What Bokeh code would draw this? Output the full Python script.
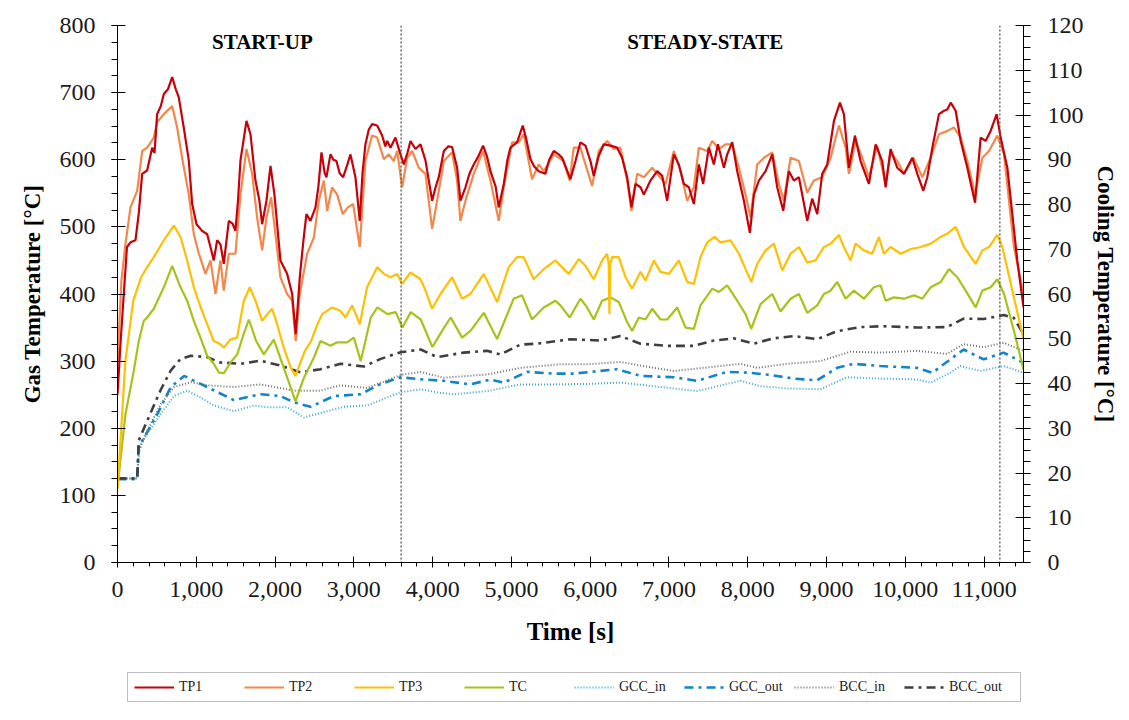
from bokeh.plotting import figure
from bokeh.layouts import column
from bokeh.models import (Range1d, LinearAxis, FixedTicker, NumeralTickFormatter,
                          Span, Label, Legend, LegendItem)
from bokeh.embed import file_html
from bokeh.resources import INLINE

# ---------------- data (time [s], temperature) ----------------
tp1_t = [0, 40, 80, 120, 165, 228, 270, 313, 376, 440, 470, 503, 550, 588, 640, 694, 740, 778, 841, 905,
         948, 1003, 1074, 1138, 1180, 1222, 1265, 1307, 1349, 1413, 1460, 1497, 1530, 1561, 1637, 1688, 1751,
         1800, 1836, 1891, 1942, 1992, 2068, 2153, 2217, 2262, 2314, 2360, 2398, 2449, 2513, 2550, 2589, 2630,
         2652, 2703, 2740, 2779, 2820, 2864, 2910, 2957, 3020, 3075, 3110, 3147, 3190, 3232, 3296, 3359, 3400,
         3423, 3465, 3528, 3592, 3634, 3680, 3719, 3782, 3846, 3909, 3950, 3994, 4040, 4078, 4142, 4200, 4247,
         4311, 4353, 4417, 4470, 4522, 4580, 4640, 4690, 4734, 4800, 4839, 4903, 4950, 4987, 5072, 5144, 5190,
         5241, 5290, 5347, 5431, 5480, 5537, 5600, 5643, 5749, 5813, 5876, 5940, 6003, 6045, 6109, 6172, 6257,
         6342, 6405, 6469, 6524, 6575, 6639, 6681, 6765, 6850, 6914, 6977, 7062, 7125, 7189, 7252, 7316, 7379,
         7434, 7506, 7570, 7621, 7697, 7739, 7803, 7866, 7951, 8027, 8078, 8141, 8226, 8311, 8374, 8450, 8522,
         8586, 8649, 8755, 8818, 8882, 8945, 9009, 9094, 9170, 9220, 9284, 9360, 9432, 9538, 9623, 9707, 9750,
         9813, 9898, 9983, 10089, 10152, 10228, 10279, 10343, 10427, 10491, 10533, 10576, 10639, 10703, 10787,
         10885, 10956, 11019, 11083, 11159, 11210, 11295, 11421, 11500]
tp1_v = [250, 330, 400, 470, 477, 480, 520, 579, 584, 618, 610, 668, 680, 698, 705, 723, 705, 693, 648, 599,
         534, 504, 494, 489, 470, 450, 480, 474, 445, 509, 505, 494, 540, 599, 658, 638, 569,
         540, 504, 539, 591, 548, 450, 430, 400, 340, 425, 480, 519, 509, 529, 560, 611, 580,
         574, 608, 600, 598, 580, 574, 590, 608, 574, 509, 580, 623, 645, 653, 651, 636, 620,
         628, 618, 633, 608, 593, 610, 628, 616, 623, 599, 570, 539, 560, 574, 613, 620, 619,
         588, 539, 559, 580, 593, 605, 621, 605, 583, 560, 529, 564, 600, 618, 626, 651, 630,
         601, 590, 583, 579, 600, 613, 608, 603, 571, 598, 626, 621, 598, 576, 606, 623, 621,
         618, 603, 574, 529, 564, 559, 548, 569, 583, 576, 539, 608, 593, 564, 559, 534, 593,
         564, 618, 593, 623, 588, 608, 626, 583, 539, 491, 548, 569, 583, 608, 559, 524, 583,
         569, 574, 509, 542, 519, 579, 593, 658, 685, 668, 588, 636, 598, 564, 623, 598, 559,
         616, 588, 579, 603, 579, 554, 574, 618, 668, 673, 675, 685, 673, 628, 588,
         536, 633, 628, 643, 668, 633, 588, 450, 380]

tp2_t = [0, 50, 100, 165, 250, 313, 376, 461, 503, 588, 650, 694, 757, 820, 905, 969, 1033, 1117, 1180, 1244,
         1307, 1349, 1413, 1497, 1561, 1637, 1709, 1772, 1836, 1891, 1950, 2005, 2068, 2153, 2217, 2262, 2314,
         2407, 2492, 2555, 2619, 2661, 2724, 2788, 2860, 2923, 2991, 3075, 3147, 3232, 3296, 3381, 3444, 3507,
         3550, 3613, 3677, 3740, 3825, 3909, 3994, 4057, 4142, 4247, 4311, 4353, 4417, 4522, 4640, 4734, 4839,
         4903, 5009, 5093, 5156, 5262, 5347, 5410, 5537, 5664, 5740, 5791, 5876, 5940, 6024, 6109, 6215, 6299,
         6384, 6469, 6524, 6596, 6681, 6787, 6871, 6956, 7062, 7147, 7231, 7316, 7379, 7485, 7549, 7633, 7718,
         7803, 7887, 7972, 8035, 8120, 8205, 8311, 8395, 8458, 8543, 8649, 8755, 8839, 8945, 9051, 9157, 9242,
         9284, 9368, 9453, 9538, 9643, 9750, 9813, 9898, 9983, 10102, 10216, 10322, 10427, 10533, 10618, 10703,
         10787, 10885, 10978, 11062, 11168, 11253, 11379, 11500]
tp2_v = [300, 420, 474, 529, 554, 613, 618, 633, 656, 668, 675, 680, 648, 603, 548, 489, 460, 430, 450, 400,
         450, 405, 460, 460, 548, 616, 579, 514, 465, 514, 544, 489, 425, 400, 390, 330, 400,
         460, 484, 539, 569, 524, 559, 548, 519, 529, 534, 470, 599, 636, 633, 601, 608, 598,
         613, 559, 603, 613, 588, 579, 497, 539, 598, 611, 569, 509, 539, 579, 613, 569, 509,
         559, 626, 626, 638, 571, 593, 583, 608, 598, 569, 618, 618, 593, 561, 613, 628, 616,
         618, 569, 524, 579, 574, 588, 576, 564, 613, 583, 539, 559, 618, 613, 628, 616, 623,
         623, 588, 548, 514, 593, 603, 611, 564, 539, 603, 598, 551, 569, 574, 603, 651, 618,
         579, 628, 603, 574, 621, 564, 611, 598, 579, 603, 574, 603, 638, 643, 648, 633,
         598, 548, 603, 613, 636, 608, 470, 400]

tp3_t = [0, 100, 200, 300, 376, 461, 588, 715, 800, 884, 969, 1053, 1138, 1222, 1300, 1350, 1430, 1518, 1603,
         1679, 1751, 1836, 1900, 1963, 2026, 2110, 2200, 2259, 2300, 2377, 2458, 2538, 2598, 2724, 2830, 2893,
         2978, 3075, 3168, 3296, 3381, 3465, 3550, 3613, 3719, 3846, 3909, 3994, 4099, 4247, 4374, 4480, 4649,
         4818, 4966, 5072, 5156, 5283, 5410, 5558, 5728, 5855, 5940, 6045, 6151, 6215, 6235, 6244, 6255, 6278,
         6363, 6448, 6532, 6639, 6702, 6808, 6892, 6998, 7125, 7231, 7316, 7400, 7485, 7578, 7655, 7781, 7887,
         7972, 8044, 8120, 8226, 8332, 8437, 8543, 8649, 8755, 8860, 8966, 9051, 9157, 9220, 9305, 9368, 9474,
         9580, 9665, 9728, 9813, 9940, 10068, 10195, 10322, 10449, 10533, 10639, 10745, 10893, 10978, 11062,
         11168, 11231, 11500]
tp3_v = [110, 300, 390, 425, 440, 455, 480, 502, 485, 450, 410, 381, 355, 330, 326, 320, 332, 335, 390,
         410, 390, 360, 370, 378, 355, 320, 290, 278, 291, 315, 330, 355, 370, 380, 375, 365,
         383, 355, 410, 440, 430, 425, 430, 415, 432, 422, 405, 378, 400, 425, 393, 400, 430,
         388, 440, 455, 455, 422, 437, 450, 430, 452, 442, 422, 450, 460, 445, 370, 445, 455,
         455, 425, 408, 433, 420, 450, 433, 430, 450, 418, 415, 455, 477, 485, 477, 480, 460,
         437, 418, 445, 465, 475, 435, 460, 470, 447, 450, 470, 475, 488, 470, 450, 475, 465,
         460, 485, 460, 470, 460, 467, 470, 475, 485, 490, 500, 470, 445, 465, 470,
         488, 470, 333]

tc_t = [0, 100, 207, 270, 334, 376, 461, 588, 694, 800, 884, 969, 1053, 1138, 1222, 1286, 1350, 1434, 1520,
        1600, 1667, 1760, 1857, 1984, 2111, 2200, 2259, 2365, 2492, 2577, 2704, 2789, 2916, 3000, 3088, 3215,
        3299, 3426, 3532, 3617, 3722, 3849, 3997, 4145, 4230, 4374, 4480, 4649, 4818, 5029, 5135, 5262, 5410,
        5558, 5622, 5740, 5876, 5961, 6045, 6151, 6257, 6363, 6469, 6532, 6617, 6702, 6787, 6892, 6977, 7104,
        7210, 7316, 7400, 7549, 7633, 7739, 7866, 7972, 8044, 8162, 8311, 8416, 8543, 8649, 8755, 8882, 8966,
        9051, 9136, 9242, 9347, 9474, 9601, 9686, 9750, 9855, 9983, 10110, 10216, 10322, 10449, 10554, 10660,
        10766, 10893, 10978, 11083, 11168, 11253, 11379, 11500]
tc_v = [112, 220, 286, 330, 360, 365, 378, 410, 442, 410, 390, 360, 335, 308, 296, 283, 282, 298, 310,
        340, 362, 330, 310, 332, 290, 260, 240, 275, 305, 330, 323, 328, 328, 335, 300, 365,
        380, 370, 373, 350, 373, 362, 321, 350, 365, 335, 345, 372, 333, 393, 398, 362, 380,
        390, 383, 365, 393, 380, 362, 390, 395, 388, 358, 345, 365, 362, 378, 362, 362, 380,
        350, 348, 383, 408, 403, 413, 390, 370, 348, 385, 400, 374, 393, 400, 372, 383, 400,
        405, 418, 393, 405, 393, 410, 413, 390, 395, 393, 398, 393, 410, 418, 437, 425,
        405, 380, 405, 410, 422, 400, 345, 287]

# cooling temperatures (right axis, degC)
gcci_t = [0, 250, 270, 300, 380, 549, 718, 884, 1053, 1222, 1476, 1730, 1900, 2153, 2365, 2619, 2873, 3169,
          3384, 3595, 3849, 4103, 4269, 4691, 5114, 5537, 5961, 6384, 6807, 7357, 7906, 8160, 8499, 8921, 9259,
          9683, 10148, 10322, 10571, 10697, 10951, 11248, 11500]
gcci_v = [18.7, 18.7, 24.0, 26.5, 28.8, 33.2, 37.2, 38.4, 36.9, 35.1, 33.8, 35.1, 34.7, 34.7, 32.4, 33.6, 34.8,
          35.1, 36.6, 38.1, 38.7, 37.9, 37.6, 38.3, 39.8, 39.8, 39.9, 40.2, 39.4, 38.3, 40.6, 39.4, 38.9, 38.7,
          41.4, 41.1, 40.9, 40.2, 42.4, 43.9, 42.8, 43.9, 42.4]

gcco_t = [0, 250, 270, 338, 507, 676, 846, 973, 1138, 1476, 1815, 2068, 2238, 2450, 2746, 3084, 3341, 3595,
          3807, 4142, 4480, 4733, 4902, 5199, 5537, 5791, 6342, 6638, 7061, 7357, 7738, 8033, 8287, 8584, 8880,
          9134, 9345, 9683, 10148, 10343, 10571, 10740, 10994, 11248, 11500]
gcco_v = [18.6, 18.6, 26.0, 27.9, 33.2, 39.2, 41.7, 40.6, 39.2, 36.3, 37.6, 37.2, 35.8, 34.8, 37.2, 37.6, 39.9,
          41.4, 41.0, 40.6, 39.8, 40.9, 40.2, 42.6, 42.2, 42.2, 43.2, 41.7, 41.4, 40.6, 42.6, 42.4, 41.9, 41.1,
          40.7, 43.5, 44.4, 43.9, 43.5, 42.4, 45.4, 47.6, 45.4, 46.9, 44.6]

bcci_t = [0, 250, 270, 380, 549, 718, 931, 1138, 1476, 1815, 2238, 2577, 2831, 3169, 3595, 3849, 4142, 4691,
          5114, 5622, 5961, 6384, 6807, 7061, 7442, 7906, 8118, 8499, 8921, 9302, 9683, 10148, 10528, 10740,
          10994, 11248, 11500]
bcci_v = [18.8, 18.8, 25.0, 29.5, 35.4, 39.2, 40.3, 39.6, 39.2, 39.8, 38.4, 38.4, 39.6, 39.0, 41.9, 42.6, 41.3,
          42.0, 43.5, 44.3, 44.3, 44.8, 43.5, 42.8, 43.5, 44.4, 43.5, 44.4, 45.0, 47.1, 46.9, 47.3, 46.6, 48.8,
          48.1, 49.1, 47.3]

bcco_t = [0, 250, 270, 380, 549, 676, 800, 931, 1138, 1307, 1561, 1815, 2068, 2322, 2577, 2831, 3126, 3341,
          3595, 3849, 4057, 4395, 4691, 4860, 5114, 5326, 5749, 6130, 6384, 6638, 6976, 7315, 7569, 7822, 8076,
          8330, 8584, 8880, 9134, 9430, 9726, 10148, 10528, 10740, 10994, 11248, 11375, 11500]
bcco_v = [18.8, 18.8, 27.3, 31.8, 38.6, 42.9, 45.5, 46.2, 45.9, 44.7, 44.4, 45.1, 44.0, 42.5, 43.2, 44.4, 43.8,
          45.5, 47.0, 47.6, 45.9, 46.9, 47.3, 46.5, 48.7, 48.9, 49.9, 49.6, 50.6, 48.9, 48.4, 48.4, 49.6, 50.1,
          48.9, 50.1, 50.6, 49.9, 51.7, 52.6, 52.8, 52.5, 52.6, 54.5, 54.4, 55.3, 54.7, 51.0]

x_ticks = list(range(0, 11001, 1000))
x_minor = list(range(0, 11501, 200))
y_ticks = list(range(0, 801, 100))
y_minor = [i * 25 for i in range(0, 33)]
c_ticks = list(range(0, 121, 10))
c_minor = [i * 2.5 for i in range(0, 49)]
phase_bounds = [3600, 11200]
phase_labels = ["START-UP", "STEADY-STATE"]
series_names = ["TP1", "TP2", "TP3", "TC", "GCC_in", "GCC_out", "BCC_in", "BCC_out"]

# ---------------- styles ----------------
SERIF = "Liberation Serif"
STYLES = {
    "TP1": dict(line_color="#C8000A", line_width=2.2),
    "TP2": dict(line_color="#F4874B", line_width=2.2),
    "TP3": dict(line_color="#FFC000", line_width=2.2),
    "TC": dict(line_color="#A6C31A", line_width=2.2),
    "GCC_in": dict(line_color="#3AA8DE", line_width=2, line_dash="1 2"),
    "GCC_out": dict(line_color="#1185C6", line_width=2.6, line_dash="9 5 3 5"),
    "BCC_in": dict(line_color="#707070", line_width=2, line_dash="1 2"),
    "BCC_out": dict(line_color="#3F3F3F", line_width=2.6, line_dash="9 5 3 5"),
}

# ---------------- main figure ----------------
W = 1121
p = figure(width=W, height=662, output_backend="svg", toolbar_location=None,
           x_range=Range1d(0, 11500), y_range=Range1d(0, 800),
           min_border_left=117, min_border_right=98, min_border_top=25, min_border_bottom=100)
p.extra_y_ranges = {"cool": Range1d(0, 120)}
p.grid.visible = False
p.outline_line_color = None
p.background_fill_color = "white"
p.border_fill_color = "white"


def style_axis(ax, label, ticks, minor, tin, tout, mout, standoff, lab_standoff):
    ax.ticker = FixedTicker(ticks=ticks, minor_ticks=minor)
    ax.axis_label = label
    ax.axis_line_color = "black"
    ax.axis_line_width = 1
    ax.major_tick_line_color = "black"
    ax.minor_tick_line_color = "black"
    ax.major_tick_in = tin
    ax.major_tick_out = tout
    ax.minor_tick_in = 0
    ax.minor_tick_out = mout
    ax.major_label_text_font = SERIF
    ax.major_label_text_font_size = "24px"
    ax.major_label_text_color = "#1a1a1a"
    ax.major_label_standoff = standoff
    ax.axis_label_text_font = SERIF
    ax.axis_label_text_font_style = "bold"
    ax.axis_label_text_font_size = "23px"
    ax.axis_label_text_color = "black"
    ax.axis_label_standoff = lab_standoff


xa = p.xaxis[0]
style_axis(xa, "Time [s]", x_ticks, x_minor, 6, 5, 4, 14, 18)
xa.formatter = NumeralTickFormatter(format="0,0")
xa.axis_label_text_font_size = "25px"
ya = p.yaxis[0]
style_axis(ya, "Gas Temperature [°C]", y_ticks, y_minor, 8, 6, 6, 16, 12)
ra = LinearAxis(y_range_name="cool")
style_axis(ra, "Cooling Temperature [°C]", c_ticks, c_minor, 8, 7, 7, 17, 6)
p.add_layout(ra, "right")

p.line(gcci_t, gcci_v, y_range_name="cool", **STYLES["GCC_in"])
p.line(gcco_t, gcco_v, y_range_name="cool", **STYLES["GCC_out"])
p.line(bcci_t, bcci_v, y_range_name="cool", **STYLES["BCC_in"])
p.line(bcco_t, bcco_v, y_range_name="cool", **STYLES["BCC_out"])
p.line(tc_t, tc_v, **STYLES["TC"])
p.line(tp3_t, tp3_v, **STYLES["TP3"])
p.line(tp2_t, tp2_v, **STYLES["TP2"])
p.line(tp1_t, tp1_v, **STYLES["TP1"])

for b in phase_bounds:
    p.add_layout(Span(location=b, dimension="height", line_color="#555555",
                      line_width=1.3, line_dash="2 2"))
for lx, txt in zip([1840, 7462], phase_labels):
    p.add_layout(Label(x=lx, y=776, text=txt, text_align="center", text_baseline="middle",
                       text_font=SERIF, text_font_style="bold", text_font_size="21px",
                       text_color="black"))

# ---------------- legend strip (frame aligned with the main frame) ----------------
lg = figure(width=W, height=42, output_backend="svg", toolbar_location=None,
            x_range=Range1d(0, 1), y_range=Range1d(0, 1), x_axis_type=None, y_axis_type=None,
            min_border_left=0, min_border_right=0, min_border_top=0, min_border_bottom=0)
lg.grid.visible = False
lg.outline_line_color = None
items = []
for name in series_names:
    r = lg.line([-10, -9], [-10, -9], **STYLES[name])   # off-range stub, only for the legend glyph
    items.append(LegendItem(label=name, renderers=[r]))
legend = Legend(items=items, orientation="horizontal", location=(10, 2))
legend.margin = 0
legend.border_line_color = "#808080"
legend.border_line_width = 1
legend.background_fill_color = "white"
legend.background_fill_alpha = 1
legend.padding = 6
legend.spacing = 0
legend.glyph_width = 40
legend.glyph_height = 16
legend.label_width = 65
legend.label_height = 16
legend.label_standoff = 5
legend.label_text_font = SERIF
legend.label_text_font_size = "14px"
legend.label_text_color = "#222222"
lg.add_layout(legend, "center")

layout = column(p, lg, spacing=0)
open("out.html", "w").write(file_html(layout, INLINE))
